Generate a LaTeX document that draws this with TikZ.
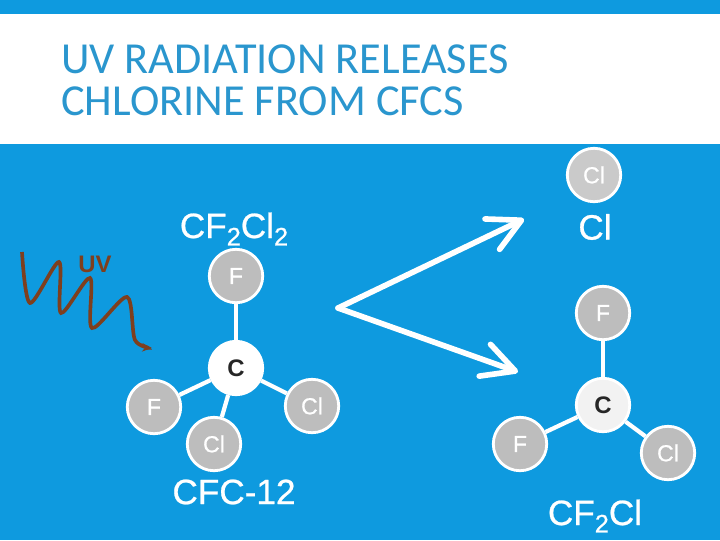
\documentclass[tikz,border=0pt]{standalone}
\usepackage{fontspec}
\setmainfont{Liberation Sans}
\newfontfamily\titlefont{Carlito}
\newfontfamily\heavyfont{Liberation Sans}[FakeBold=0.7]
\usetikzlibrary{arrows.meta}
\definecolor{skyblue}{HTML}{0E9ADF}
\definecolor{titleblue}{HTML}{2A96CE}
\definecolor{atomgray}{HTML}{BDBDBD}
\definecolor{uvbrown}{HTML}{7E3F1E}
\newcommand{\subn}[1]{\raisebox{-0.4ex}{\scalebox{0.72}{#1}}}
\tikzset{
	atom/.style={circle,draw=white,line width=2pt,fill=atomgray,minimum size=38pt,inner sep=0pt,text=white,font=\fontsize{16.5}{16.5}\selectfont\heavyfont},
	carbon/.style={atom,fill=white,text=black!85,font=\fontsize{17}{17}\selectfont\bfseries},
	bond/.style={white,line width=3pt},
	label/.style={text=white,inner sep=0pt,font=\fontsize{25}{25}\selectfont\heavyfont},
	split/.style={white,line width=4pt,line cap=round,line join=round,-{Straight Barb[length=23pt,width=24pt,round]}}
}
\begin{document}
\begin{tikzpicture}[x=0.025cm,y=-0.025cm]
	\useasboundingbox (0,0) rectangle (720,540);
	\fill[skyblue] (0,0) rectangle (720,540);
	\fill[white] (0,14) rectangle (720,144);
	\node[anchor=base west,inner sep=0pt,align=left,text=titleblue,font=\fontsize{31.5}{29.2}\selectfont\titlefont] (title) at (61,115) {UV RADIATION RELEASES\\CHLORINE FROM CFCS};
	% left molecule
	\node[label] (name) at (234,229) {CF\subn{2}Cl\subn{2}};
	\node[atom] (ftop) at (236,276) {F};
	\node[carbon] (cleft) at (236,368) {C};
	\node[atom] (fleft) at (154,407) {F};
	\node[atom] (clbot) at (214,444) {Cl};
	\node[atom] (clright) at (312,406) {Cl};
	\node[label] (cfc) at (234,492) {CFC-12};
	\draw[bond] (ftop)--(cleft);
	\draw[bond] (cleft)--(fleft);
	\draw[bond] (cleft)--(clbot);
	\draw[bond] (cleft)--(clright);
	% uv wave
	\node[text=uvbrown,inner sep=0pt,font=\fontsize{17}{17}\selectfont\bfseries] (uv) at (95,264) {UV};
	\draw[uvbrown,line width=2.6pt,-{Stealth[length=7pt,width=6pt]}] plot[smooth,tension=0.5] coordinates {(22,252) (30,303) (59,262) (61,313) (90,278) (92,328) (127,297) (135,340) (152,348)};
	% arrows
	\coordinate (apex) at (338,308);
	\coordinate (tipup) at (524,219);
	\coordinate (tipdown) at (518,372);
	\draw[split] (apex)--(tipup);
	\draw[split] (apex)--(tipdown);
	% products
	\node[atom,fill=atomgray!80] (cl) at (594,175) {Cl};
	\node[label] (clname) at (595,227) {Cl};
	\node[atom] (frtop) at (603,313) {F};
	\node[carbon,fill=white!95!black] (cright) at (603,405) {C};
	\node[atom] (frleft) at (520,444) {F};
	\node[atom] (clrb) at (668,453) {Cl};
	\node[label] (radical) at (595,516) {CF\subn{2}Cl};
	\draw[bond] (frtop)--(cright);
	\draw[bond] (cright)--(frleft);
	\draw[bond] (cright)--(clrb);
\end{tikzpicture}
\end{document}
